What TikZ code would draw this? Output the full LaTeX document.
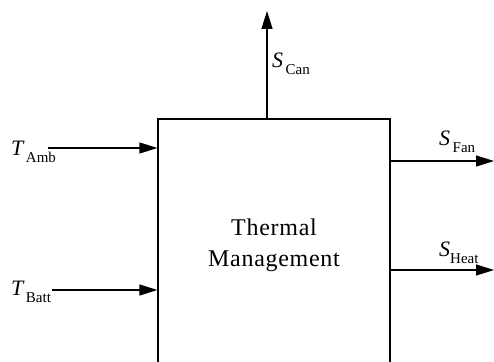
\documentclass[tikz,border=0pt]{standalone}
\usepackage{fontspec}
\setmainfont{Liberation Serif}
\usetikzlibrary{arrows.meta}
\newcommand\siglab[2]{{\fontsize{22}{22}\selectfont\itshape #1}\raisebox{-7pt}{\fontsize{15}{15}\selectfont #2}}
\tikzset{
  sig/.style={line width=1.2pt,-{Triangle[length=18pt,width=11pt]}},
  lab/.style={anchor=base west,inner sep=0pt},
  block/.style={draw,line width=1.2pt,minimum width=232pt,minimum height=252pt,inner sep=0pt,align=center,
    font=\fontsize{24}{31}\selectfont\addfontfeature{LetterSpace=3}}
}
\begin{document}
\begin{tikzpicture}[x=1pt,y=-1pt]
\useasboundingbox (0,0) rectangle (494,361);
\clip (0,0) rectangle (494,361);
\node[block] (tm) at (274,245) {Thermal\\Management};
\coordinate (ca) at (267,11);
\coordinate (am) at (48,148);
\coordinate (ba) at (52,290);
\coordinate (fa) at (494,161);
\coordinate (he) at (494,270);
\draw[sig] (tm.north -| ca) -- (ca);
\draw[sig] (am) -- (tm.west |- am);
\draw[sig] (ba) -- (tm.west |- ba);
\draw[sig] (tm.east |- fa) -- (fa);
\draw[sig] (tm.east |- he) -- (he);
\node[lab] (lca) at (272,67) {\siglab{S}{\,Can}};
\node[lab] (lam) at (11,155) {\siglab{T}{\,Amb}};
\node[lab] (lba) at (11,295) {\siglab{T}{\,Batt}};
\node[lab] (lfa) at (439,145) {\siglab{S}{\,Fan}};
\node[lab] (lhe) at (439,256) {\siglab{S}{Heat}};
\end{tikzpicture}
\end{document}
